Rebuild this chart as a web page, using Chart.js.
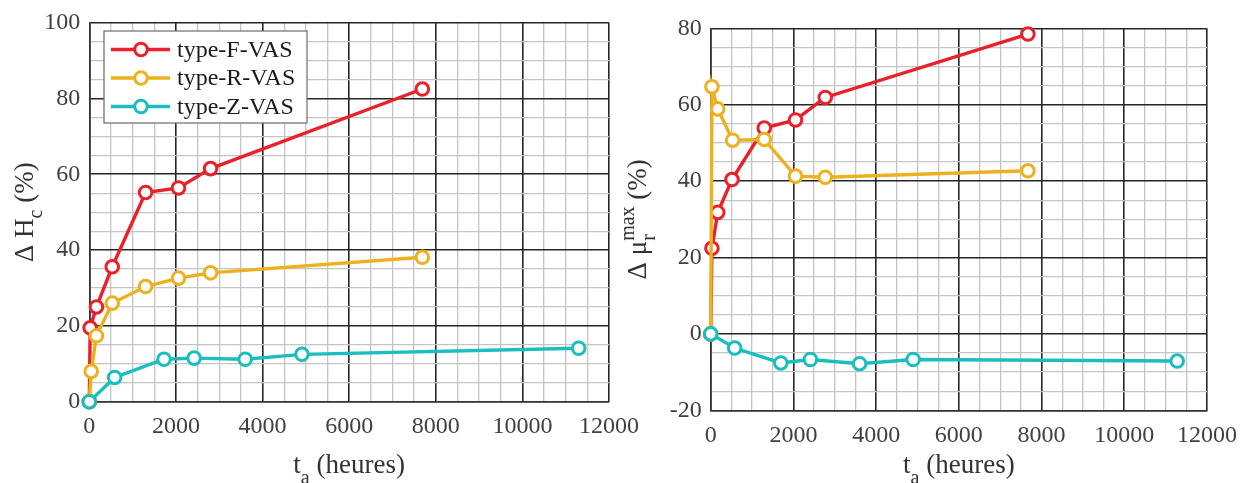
<!DOCTYPE html>
<html>
<head>
<meta charset="utf-8">
<script src="https://cdn.jsdelivr.net/npm/chart.js@4.4.1/dist/chart.umd.min.js"></script>
<style>
  body { margin: 0; background: #fff; width: 1241px; height: 483px; overflow: hidden; position: relative; }
  canvas { position: absolute; top: 0; }
  #hc { left: 0; }
  #mu { left: 600px; }
</style>
</head>
<body>
<canvas id="hc" width="660" height="483"></canvas>
<canvas id="mu" width="641" height="483"></canvas>
<script>
var seriesNames = ["type-F-VAS", "type-R-VAS", "type-Z-VAS"];
var seriesColors = ["#e8212a", "#edb120", "#1cbdbf"];

// temps de vieillissement (heures)
var tF = [0, 20, 165, 530, 1300, 2060, 2800, 7690];
var tR = [0, 45, 165, 530, 1300, 2060, 2800, 7690];
var tZ = [0, 585, 1725, 2420, 3600, 4910, 11300];
// delta Hc (%)
var hcF = [0, 19.5, 25, 35.6, 55.2, 56.4, 61.5, 82.5];
var hcR = [0, 8, 17.4, 26, 30.4, 32.6, 34, 38.1];
var hcZ = [0, 6.4, 11.2, 11.5, 11.2, 12.5, 14.1];

// second graph
var tF2 = [0, 30, 170, 515, 1295, 2050, 2770, 7670];
var tR2 = [0, 30, 170, 530, 1295, 2050, 2770, 7670];
var tZ2 = [0, 580, 1695, 2410, 3600, 4895, 11280];
// delta mu_r max (%)
var muF = [0, 22.4, 31.8, 40.4, 53.9, 56, 61.9, 78.5];
var muR = [0, 64.7, 58.9, 50.7, 50.9, 41.3, 41, 42.7];
var muZ = [0, -3.7, -7.6, -6.7, -7.8, -6.7, -7.1];

var xTicks = [0, 2000, 4000, 6000, 8000, 10000, 12000];
var hcTicks = [0, 20, 40, 60, 80, 100];
var muTicks = [-20, 0, 20, 40, 60, 80];

var serif = "'Liberation Serif', 'DejaVu Serif', serif";

function pts(xs, ys) {
  return xs.map(function (x, i) { return { x: x, y: ys[i] }; });
}

function makeSet(i, xs, ys) {
  return {
    label: seriesNames[i],
    data: pts(xs, ys),
    borderColor: seriesColors[i],
    backgroundColor: seriesColors[i],
    borderWidth: 3.4,
    pointRadius: 6.3,
    pointBorderWidth: 3,
    pointBackgroundColor: "#fff",
    pointBorderColor: seriesColors[i],
    tension: 0,
    clip: false,
    order: 3 - i
  };
}

// draws pieces of text (sub/superscripts) centred on cx along the baseline
function richText(ctx, parts, cx, base, vertical) {
  ctx.save();
  ctx.fillStyle = "#333";
  ctx.textBaseline = "alphabetic";
  ctx.textAlign = "left";
  var total = 0;
  parts.forEach(function (p) {
    ctx.font = p.size + "px " + serif;
    p.w = ctx.measureText(p.text).width;
    if (!p.stack) total += p.w;
  });
  // stacked parts share position with previous part
  parts.forEach(function (p, i) {
    if (p.stack) {
      var prev = parts[i - 1];
      if (p.w > prev.w) { total += p.w - prev.w; prev.w = p.w; }
    }
  });
  if (vertical) {
    ctx.translate(base, cx);
    ctx.rotate(-Math.PI / 2);
  } else {
    ctx.translate(cx, base);
  }
  var x = -total / 2;
  parts.forEach(function (p, i) {
    ctx.font = p.size + "px " + serif;
    if (p.stack) {
      var prev = parts[i - 1];
      ctx.fillText(p.text, x - prev.w, p.dy || 0);
      return;
    }
    ctx.fillText(p.text, x, p.dy || 0);
    x += p.w;
  });
  ctx.restore();
}

var axisTitles = {
  id: "axisTitles",
  afterDraw: function (chart, args, opts) {
    var ctx = chart.ctx, a = chart.chartArea;
    richText(ctx, opts.x, (a.left + a.right) / 2, 473, false);
    richText(ctx, opts.y, (a.top + a.bottom) / 2, opts.yBase, true);
  }
};

var boxLegend = {
  id: "boxLegend",
  afterDraw: function (chart, args, opts) {
    if (!opts.show) return;
    var ctx = chart.ctx;
    ctx.save();
    ctx.fillStyle = "#fff";
    ctx.fillRect(104, 31, 203, 92);
    ctx.strokeStyle = "#6b6b6b";
    ctx.lineWidth = 1.2;
    ctx.strokeRect(104, 31, 203, 92);
    var rows = [49.5, 78, 106.5];
    seriesNames.forEach(function (name, i) {
      var y = rows[i];
      ctx.strokeStyle = seriesColors[i];
      ctx.lineWidth = 3.4;
      ctx.beginPath();
      ctx.moveTo(111, y);
      ctx.lineTo(170, y);
      ctx.stroke();
      ctx.beginPath();
      ctx.arc(141, y, 6.3, 0, Math.PI * 2);
      ctx.fillStyle = "#fff";
      ctx.fill();
      ctx.lineWidth = 3;
      ctx.stroke();
      ctx.fillStyle = "#1a1a1a";
      ctx.font = "24px " + serif;
      ctx.textBaseline = "middle";
      ctx.fillText(name, 177, y + 1);
    });
    ctx.restore();
  }
};

function gridOpts(majors) {
  return {
    drawTicks: false,
    color: function (c) { return majors.indexOf(c.tick.value) >= 0 ? "#262626" : "#c4c4c4"; },
    lineWidth: function (c) { return majors.indexOf(c.tick.value) >= 0 ? 1.6 : 1.3; }
  };
}

function makeChart(id, sets, yMin, yMax, yMajors, box, titles, legend) {
  return new Chart(document.getElementById(id), {
    type: "line",
    data: { datasets: sets },
    plugins: [axisTitles, boxLegend],
    options: {
      responsive: false,
      animation: false,
      devicePixelRatio: 1,
      layout: { padding: { left: 0, top: box.top, right: box.right, bottom: 0 } },
      plugins: {
        legend: { display: false },
        tooltip: { enabled: false },
        axisTitles: titles,
        boxLegend: { show: legend }
      },
      scales: {
        x: {
          type: "linear",
          min: 0, max: 12000,
          ticks: {
            stepSize: 500, autoSkip: false, maxRotation: 0,
            color: "#404040", padding: 11,
            font: { family: serif, size: 24 },
            callback: function (v) { return xTicks.indexOf(v) >= 0 ? String(v) : ""; }
          },
          grid: gridOpts(xTicks),
          border: { display: true, color: "#333", width: 1.6 },
          afterFit: function (s) { s.height = box.xh; s.paddingLeft = 0; s.paddingRight = 0; }
        },
        y: {
          min: yMin, max: yMax,
          ticks: {
            stepSize: 5, autoSkip: false,
            color: "#404040", padding: 9,
            font: { family: serif, size: 24 },
            callback: function (v) { return yMajors.indexOf(v) >= 0 ? String(v) : ""; }
          },
          grid: gridOpts(yMajors),
          border: { display: true, color: "#333", width: 1.6 },
          afterFit: function (s) { s.width = box.yw; s.paddingTop = 0; s.paddingBottom = 0; }
        }
      }
    }
  });
}

var xTitle = [
  { text: "t", size: 27 },
  { text: "a", size: 20, dy: 11 },
  { text: " (heures)", size: 27 }
];

makeChart("hc",
  [makeSet(0, tF, hcF), makeSet(1, tR, hcR), makeSet(2, tZ, hcZ)],
  0, 100, hcTicks,
  { top: 22.7, right: 51, xh: 81.3, yw: 89.3 },
  {
    x: xTitle,
    yBase: 33,
    y: [
      { text: "\u0394 H", size: 27 },
      { text: "c", size: 20, dy: 9 },
      { text: " (%)", size: 27 }
    ]
  },
  true);

makeChart("mu",
  [makeSet(0, tF2, muF), makeSet(1, tR2, muR), makeSet(2, tZ2, muZ)],
  -20, 80, muTicks,
  { top: 28.3, right: 34, xh: 72.7, yw: 110.7 },
  {
    x: xTitle,
    yBase: 46,
    y: [
      { text: "\u0394 \u03bc", size: 27 },
      { text: "r", size: 20, dy: 9 },
      { text: "max", size: 20, dy: -12, stack: true },
      { text: " (%)", size: 27 }
    ]
  },
  false);
</script>
</body>
</html>
